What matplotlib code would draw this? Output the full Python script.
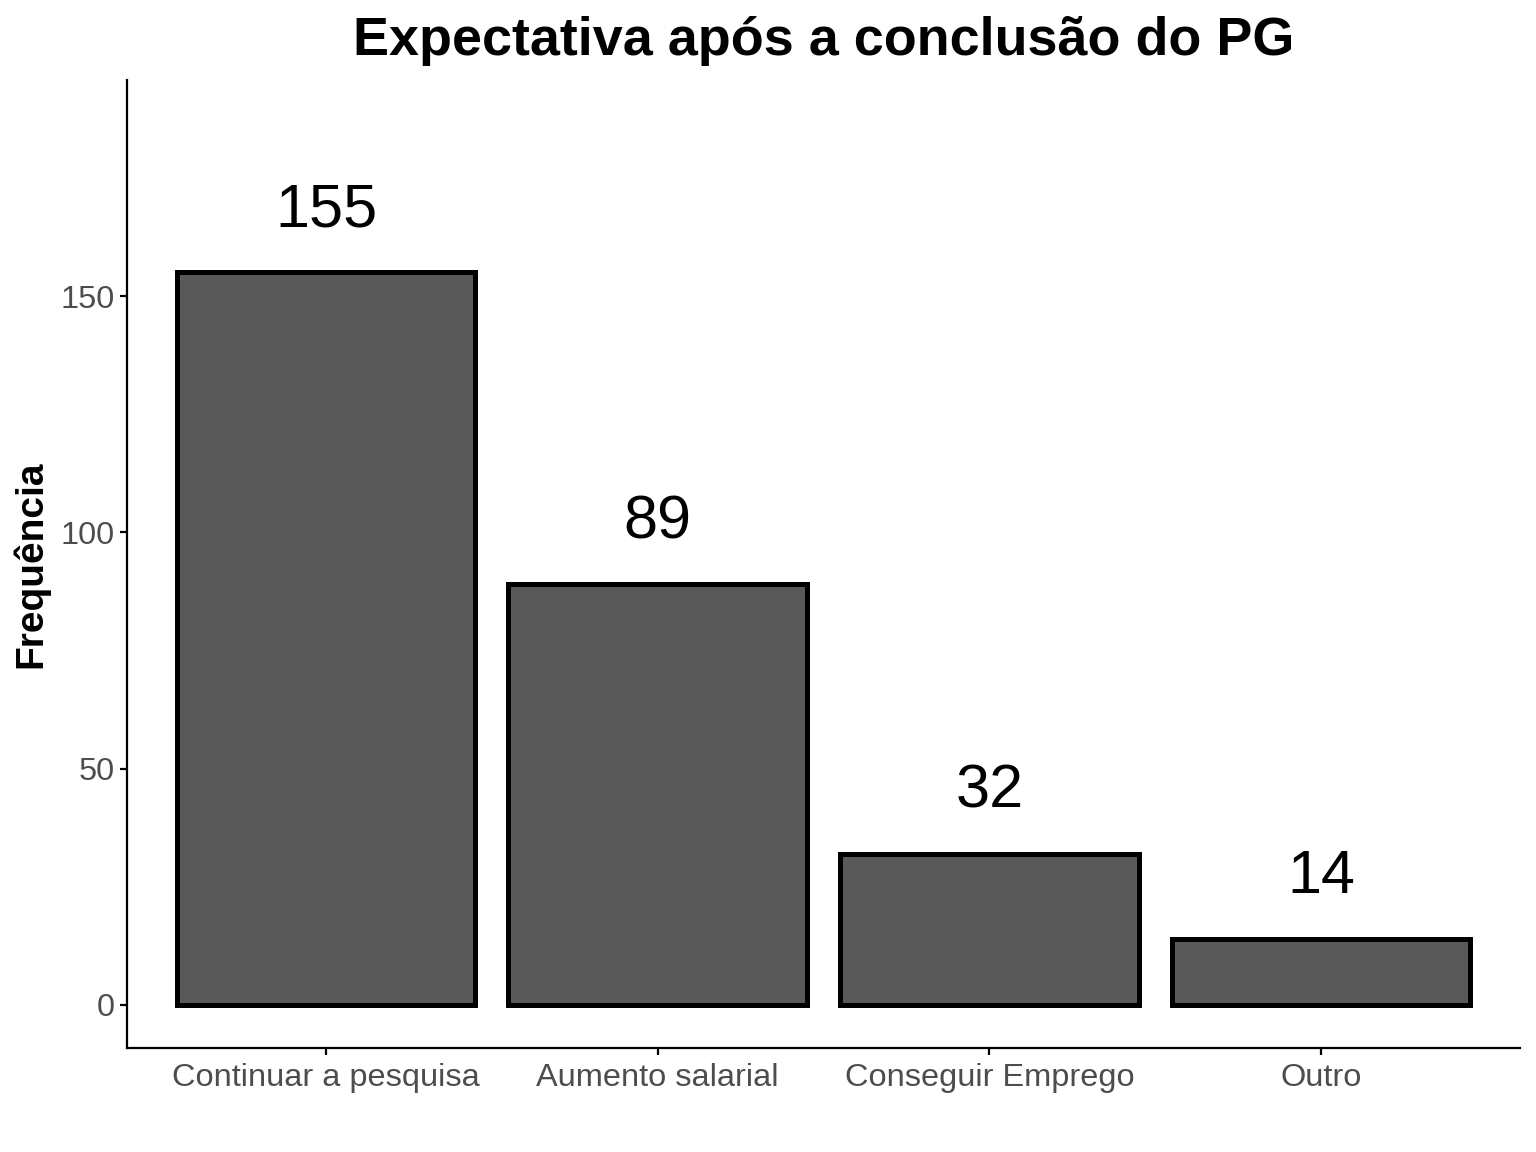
import numpy as np
import matplotlib.pyplot as plt

plt.rcParams["font.family"] = ["Liberation Sans", "DejaVu Sans"]

categorias = ["Continuar a pesquisa", "Aumento salarial", "Conseguir Emprego", "Outro"]
frequencias = [155, 89, 32, 14]

x = np.arange(1, len(categorias) + 1)

fig = plt.figure(figsize=(7.68, 5.76), dpi=200)
ax = fig.add_axes([127/1536, 1 - 1048/1152, (1520 - 127)/1536, (1048 - 80)/1152])

bars = ax.bar(
    x,
    frequencias,
    width=0.9,
    color="#595959",
    edgecolor="black",
    linewidth=1.8
)

for xi, v in zip(x, frequencias):
    ax.text(xi, v + 13, str(v), ha="center", va="center", fontsize=22)

ax.set_xlim(0.4, 4.6)
ax.set_ylim(-9.1, 195.7)
ax.set_xticks(x)
ax.set_xticklabels(categorias)
ax.set_yticks([0, 50, 100, 150])

for s in ["top", "right"]:
    ax.spines[s].set_visible(False)
for s in ["left", "bottom"]:
    ax.spines[s].set_linewidth(0.8)

ax.tick_params(axis="both", length=2.5, width=0.8, labelsize=11.7,
               labelcolor="#4D4D4D", pad=2)
ax.tick_params(axis="x", pad=3)

ax.set_ylabel("Frequência", fontsize=14, fontweight="bold", labelpad=4)
ax.set_title("Expectativa após a conclusão do PG", fontsize=19.4,
             fontweight="bold", pad=9)

fig.savefig("out.png", dpi=200)
